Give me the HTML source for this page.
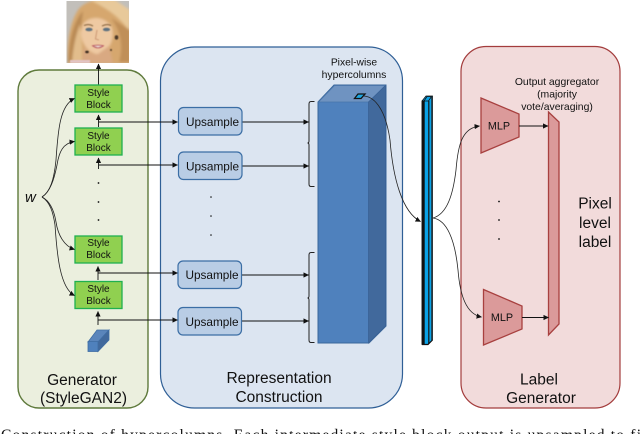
<!DOCTYPE html>
<html><head><meta charset="utf-8"><style>
html,body{margin:0;padding:0;background:#fff;width:640px;height:434px;overflow:hidden}
svg{display:block;position:absolute;left:0;top:0}
text{font-family:"Liberation Sans",sans-serif;fill:#111}
</style></head><body>
<svg width="640" height="434" viewBox="0 0 640 434" xmlns="http://www.w3.org/2000/svg">
<defs>
<marker id="a" markerWidth="6" markerHeight="6" refX="5" refY="3" orient="auto" markerUnits="userSpaceOnUse"><path d="M0 0.4L5.5 3L0 5.600z" fill="#111"/></marker>
<filter id="b2" x="-20%" y="-20%" width="140%" height="140%"><feGaussianBlur stdDeviation="1.200"/></filter>
<filter id="b1" x="-20%" y="-20%" width="140%" height="140%"><feGaussianBlur stdDeviation="0.500"/></filter>
<clipPath id="fc"><rect x="66.500" y="1" width="62.500" height="62"/></clipPath>
</defs>

<!-- panels -->
<rect x="18" y="70" width="130" height="338" rx="21" fill="#ebefde" stroke="#5f7a3c" stroke-width="1.400"/>
<rect x="160.500" y="47" width="242" height="361" rx="34" fill="#dce5f1" stroke="#2f5f96" stroke-width="1.200"/>
<rect x="461" y="46.500" width="159" height="361.500" rx="25" fill="#f2dbdb" stroke="#a33c3c" stroke-width="1.200"/>

<!-- face -->
<g clip-path="url(#fc)">
<rect x="66.500" y="1" width="62.500" height="62" fill="#c2bfba"/>
<g filter="url(#b2)">
<path d="M68 64C66 45 70 22 78 10C84 1 100 -2 108 1C120 6 128 18 131 32V64z" fill="#d6a76e"/>
<path d="M90 0C102 6 118 14 130 32L130 10L112 -2z" fill="#e8c99a"/>
<path d="M68 62C69 42 73 22 83 11L80 36L76 62z" fill="#b98a55"/>
<path d="M72 62C73 48 76 34 80 24L82 44L82 62z" fill="#e2bd8c"/>
<path d="M83 24C90 15 106 16 112 28C115 41 108 52 98 54.500C88 53 81 43 81 32z" fill="#eec9a2"/>
<path d="M98 54C90 54 86 50 84 46L82 63L113 63L109 46z" fill="#d9a982"/>
<path d="M111 18C120 30 124 45 119 62L130 62L130 30z" fill="#c08f58"/>
</g>
<g filter="url(#b1)">
<ellipse cx="89" cy="29.500" rx="3.600" ry="1.800" fill="#5b7080"/>
<ellipse cx="106.500" cy="29.500" rx="3.600" ry="1.800" fill="#5b7080"/>
<path d="M84 25.500Q89 23.500 93 26" stroke="#8a6640" stroke-width="1.100" fill="none"/>
<path d="M102 26Q107 23.500 111 25.500" stroke="#8a6640" stroke-width="1.100" fill="none"/>
<path d="M97 30L95.500 39L99 40" stroke="#cf9c78" stroke-width="1.100" fill="none"/>
<path d="M91.500 45.500Q98 44 104.500 45.500Q98 51 91.500 45.500z" fill="#b5505c"/>
<path d="M93.500 46Q98 45.500 102.500 46L98 47.200z" fill="#f6ebe6"/>
<ellipse cx="87" cy="52" rx="1.800" ry="1.200" fill="#35251c"/>
<ellipse cx="116.500" cy="37.500" rx="1.800" ry="2.200" fill="#4b3828"/>
<ellipse cx="111" cy="50" rx="1" ry="1" fill="#4b3828"/>
<rect x="70" y="60" width="20" height="3" fill="#e2c4c4"/>
</g>
</g>

<!-- generator -->
<g stroke="#111" stroke-width="0.900" fill="none">
<path d="M98.500 85V64" marker-end="url(#a)"/>
<path d="M98.500 127V115" marker-end="url(#a)"/>
<path d="M98.500 169V158" marker-end="url(#a)"/>
<path d="M98 280V266.500" marker-end="url(#a)"/>
<path d="M98 325V311.500" marker-end="url(#a)"/>
</g>
<g fill="#90d050" stroke="#1fb04f" stroke-width="1.300">
<rect x="75" y="85" width="47" height="27"/>
<rect x="75" y="128" width="47" height="27"/>
<rect x="75" y="236" width="47" height="27"/>
<rect x="75" y="281.500" width="47" height="27"/>
</g>
<g font-size="10" text-anchor="middle">
<text x="98.500" y="96">Style</text><text x="98.500" y="108">Block</text>
<text x="98.500" y="139">Style</text><text x="98.500" y="151">Block</text>
<text x="98.500" y="246">Style</text><text x="98.500" y="258">Block</text>
<text x="98.500" y="292">Style</text><text x="98.500" y="304">Block</text>
</g>
<g fill="#111">
<circle cx="98.500" cy="183" r="0.900"/><circle cx="98.500" cy="202" r="0.900"/><circle cx="98.500" cy="220" r="0.900"/>
</g>
<text x="25" y="202" font-size="15" font-style="italic">w</text>
<g stroke="#222" stroke-width="0.800" fill="none">
<path d="M42 197C50 192 54 180 56 160C58 130 60 105 74.500 98.500" marker-end="url(#a)"/>
<path d="M42 197C50 192 54 180 57 165C59 152 63 143 74.500 141.500" marker-end="url(#a)"/>
<path d="M42 197C50 201 54 210 56 222C58 235 64 246 74.500 249.500" marker-end="url(#a)"/>
<path d="M42 197C50 202 53 212 55 225C57 255 60 288 74.500 295.500" marker-end="url(#a)"/>
</g>
<!-- small cube -->
<g stroke="#3f6da3" stroke-width="0.800">
<path d="M88 342L97 330H109L98 342z" fill="#5a85bb"/>
<path d="M98 342L109 330V340L98 351.500z" fill="#41699c"/>
<rect x="88" y="341.500" width="10" height="10" fill="#4f81bd"/>
</g>
<text x="82" y="385" font-size="15.500" text-anchor="middle">Generator</text>
<text x="83.500" y="403" font-size="15.500" text-anchor="middle">(StyleGAN2)</text>

<!-- connectors to upsample -->
<g stroke="#111" stroke-width="0.900" fill="none">
<path d="M99 122H177.500" marker-end="url(#a)"/>
<path d="M99 165H177.500" marker-end="url(#a)"/>
<path d="M98 273H177.500" marker-end="url(#a)"/>
<path d="M98 320H177.500" marker-end="url(#a)"/>
<path d="M242 122H308.500" marker-end="url(#a)"/>
<path d="M242 166H308.500" marker-end="url(#a)"/>
<path d="M242 275H308.500" marker-end="url(#a)"/>
<path d="M242 321H308.500" marker-end="url(#a)"/>
</g>
<g fill="#b9cde5" stroke="#3b6ea5" stroke-width="1.200">
<rect x="178.500" y="107.500" width="63.500" height="27.500" rx="5"/>
<rect x="178.500" y="152" width="63.500" height="27.500" rx="5"/>
<rect x="178" y="261" width="63.500" height="27.500" rx="5"/>
<rect x="178" y="307.500" width="63.500" height="27.500" rx="5"/>
</g>
<g font-size="11.800" text-anchor="middle">
<text x="212.500" y="126">Upsample</text>
<text x="212.500" y="170.500">Upsample</text>
<text x="212" y="279">Upsample</text>
<text x="212" y="326">Upsample</text>
</g>
<g fill="#111">
<circle cx="211" cy="197" r="0.800"/><circle cx="211" cy="216" r="0.800"/><circle cx="211" cy="235" r="0.800"/>
</g>
<!-- brackets -->
<g stroke="#222" stroke-width="1" fill="none">
<path d="M314.500 101.500H311Q309 101.500 309 104V141Q309 143 307.500 143Q309 143 309 145V184Q309 186.500 311 186.500H314.500"/>
<path d="M314.500 252.500H311Q309 252.500 309 255V296Q309 298 307.500 298Q309 298 309 300V340Q309 342.500 311 342.500H314.500"/>
</g>
<!-- big cube -->
<path d="M318 102L334 85H386V326L369 343H318z" fill="#4f81bd" stroke="#3a679b" stroke-width="1"/>
<path d="M318.500 102L334.500 85.500H385.500L368.500 102z" fill="#6f93c1" stroke="#4a76ab" stroke-width="0.800"/>
<path d="M368.500 102L385.500 85.500V326L368.500 343z" fill="#41699c" stroke="#3a6296" stroke-width="0.800"/>
<path d="M354.500 98.500L358 94H365L361 98.500z" fill="#1ea6e0" stroke="#111" stroke-width="1.300"/>
<text x="354" y="65.500" font-size="10.300" text-anchor="middle">Pixel-wise</text>
<text x="354" y="78" font-size="10.400" text-anchor="middle">hypercolumns</text>

<!-- thin bar -->
<path d="M422 101L426 96H432.500V340L428 344.500H422z" fill="#0aa2e6" stroke="#111" stroke-width="0.800"/>
<rect x="421.700" y="100.500" width="3" height="244" fill="#111"/>
<rect x="428" y="101" width="1.500" height="243" fill="#12323f"/>
<rect x="431.200" y="97" width="1.400" height="243" fill="#22323a"/>
<path d="M424 101L427 96.500H431.500L428.500 101z" fill="#0aa2e6" stroke="#111" stroke-width="0.800"/>
<path d="M422 344.500H428L432.500 340" stroke="#111" stroke-width="1.200" fill="none"/>

<!-- curves -->
<g stroke="#222" stroke-width="0.800" fill="none">
<path d="M364 96C376 97 386 112 390 140C393 178 402 212 420.500 221.500" marker-end="url(#a)"/>
<path d="M433 218C447 214 453 195 456 170C458 145 462 128 479.500 126" marker-end="url(#a)"/>
<path d="M433 218C447 220 455 240 458 270C460 295 466 314 481.500 317" marker-end="url(#a)"/>
</g>

<!-- label gen -->
<g fill="#db9a9a" stroke="#a8403f" stroke-width="1.300">
<path d="M481 98L519 114V137L481 153z"/>
<path d="M483.500 289.500L522 306V329L483.500 345z"/>
<path d="M548.500 112L559 122V324L548.500 335z"/>
</g>
<g stroke="#111" stroke-width="0.900" fill="none">
<path d="M519 126H548" marker-end="url(#a)"/>
<path d="M522 317.500H548.500" marker-end="url(#a)"/>
</g>
<text x="499" y="129.500" font-size="10.800" text-anchor="middle">MLP</text>
<text x="502" y="321" font-size="10.800" text-anchor="middle">MLP</text>
<g font-size="10.400" text-anchor="middle">
<text x="557" y="85">Output aggregator</text>
<text x="557" y="97.500">(majority</text>
<text x="557" y="110">vote/averaging)</text>
</g>
<g fill="#111">
<circle cx="499" cy="201.500" r="0.900"/><circle cx="499" cy="220" r="0.900"/><circle cx="499" cy="239" r="0.900"/>
</g>
<g font-size="15.500" text-anchor="middle">
<text x="595" y="208.500">Pixel</text>
<text x="595" y="228">level</text>
<text x="595" y="247">label</text>
</g>
<text x="539" y="384.500" font-size="15.500" text-anchor="middle">Label</text>
<text x="541" y="403" font-size="15.500" text-anchor="middle">Generator</text>
<text x="279" y="383" font-size="15.500" text-anchor="middle">Representation</text>
<text x="279" y="402" font-size="15.500" text-anchor="middle">Construction</text>

<text x="1" y="440" font-size="15.500" textLength="640" lengthAdjust="spacing" style="font-family:'Liberation Serif',serif">Construction of hypercolumns. Each intermediate style block output is upsampled to fi</text>
</svg>
</body></html>
